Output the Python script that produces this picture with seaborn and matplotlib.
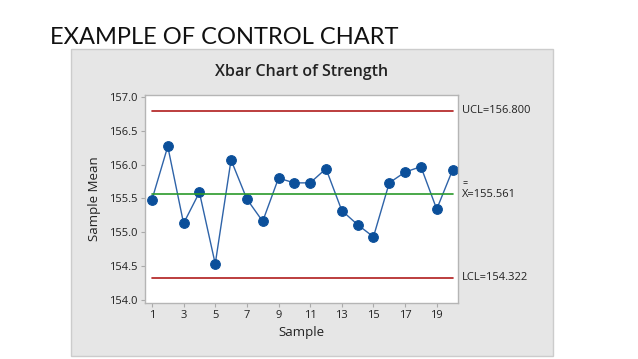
import numpy as np
import matplotlib
matplotlib.use("Agg")
import matplotlib.pyplot as plt
import matplotlib.transforms as mtransforms
from matplotlib.patches import Rectangle
import seaborn as sns

# --- data ---
samples = list(range(1, 21))
means = [155.48, 156.27, 155.13, 155.59, 154.53, 156.07, 155.49, 155.16, 155.80, 155.73,
         155.73, 155.94, 155.32, 155.11, 154.93, 155.73, 155.89, 155.97, 155.34, 155.92]
ucl = 156.800
center = 155.561
lcl = 154.322
xticks = [1, 3, 5, 7, 9, 11, 13, 15, 17, 19]
yticks = [154.0, 154.5, 155.0, 155.5, 156.0, 156.5, 157.0]

sns.set_style("white")
plt.rcParams["font.family"] = ["Open Sans", "DejaVu Sans"]

fig = plt.figure(figsize=(6.38, 3.59), dpi=100)

# grey panel behind the chart
fig.add_artist(Rectangle((0.111, 0.008), 0.756, 0.856, transform=fig.transFigure,
                         facecolor="#e6e6e6", edgecolor="#cccccc", lw=1, zorder=-1))
fig.text(0.078, 0.877, "EXAMPLE OF CONTROL CHART", fontsize=17, family=["Lato", "DejaVu Sans"],
         color="#111111", va="baseline")

ax = fig.add_axes([0.227, 0.156, 0.491, 0.579])
ax.set_facecolor("white")

sns.lineplot(x=samples, y=means, ax=ax, color="#2e63a8", lw=1, marker="o",
             markersize=7, markerfacecolor="#0b4f9a", markeredgecolor="#0b4f9a")
ax.plot([samples[0], samples[-1]], [ucl, ucl], color="#b01c1c", lw=1.2)
ax.plot([samples[0], samples[-1]], [lcl, lcl], color="#b01c1c", lw=1.2)
ax.plot([samples[0], samples[-1]], [center, center], color="#2a9a2a", lw=1.2)

ax.set_xlim(0.55, 20.35)
ax.set_ylim(153.95, 157.03)
ax.set_xticks(xticks)
ax.set_yticks(yticks)
ax.set_yticklabels([f"{t:.1f}" for t in yticks])
ax.tick_params(axis="both", labelsize=8, colors="#222222", length=3, direction="out",
               color="#aaaaaa", width=0.8, bottom=True, left=True, pad=2)
for s in ax.spines.values():
    s.set_color("#b5b5b5")
    s.set_linewidth(1)

ax.set_title("Xbar Chart of Strength", fontsize=11.5, fontweight="semibold", color="#222222", pad=14)
ax.set_xlabel("Sample", fontsize=9.5, color="#222222", labelpad=4)
ax.set_ylabel("Sample Mean", fontsize=9.5, color="#222222", labelpad=6)

trans = mtransforms.blended_transform_factory(ax.transAxes, ax.transData)
ax.text(1.013, ucl, f"UCL={ucl:.3f}", transform=trans, fontsize=8, va="center", ha="left",
        color="#222222", clip_on=False)
ax.text(1.013, center, f"X={center:.3f}", transform=trans, fontsize=8, va="center", ha="left",
        color="#222222", clip_on=False)
ax.text(1.013, center + 0.16, "=", transform=trans, fontsize=6.5, va="center", ha="left",
        color="#222222", clip_on=False)
ax.text(1.013, lcl, f"LCL={lcl:.3f}", transform=trans, fontsize=8, va="center", ha="left",
        color="#222222", clip_on=False)

plt.savefig("out.png", dpi=100)
plt.close()
